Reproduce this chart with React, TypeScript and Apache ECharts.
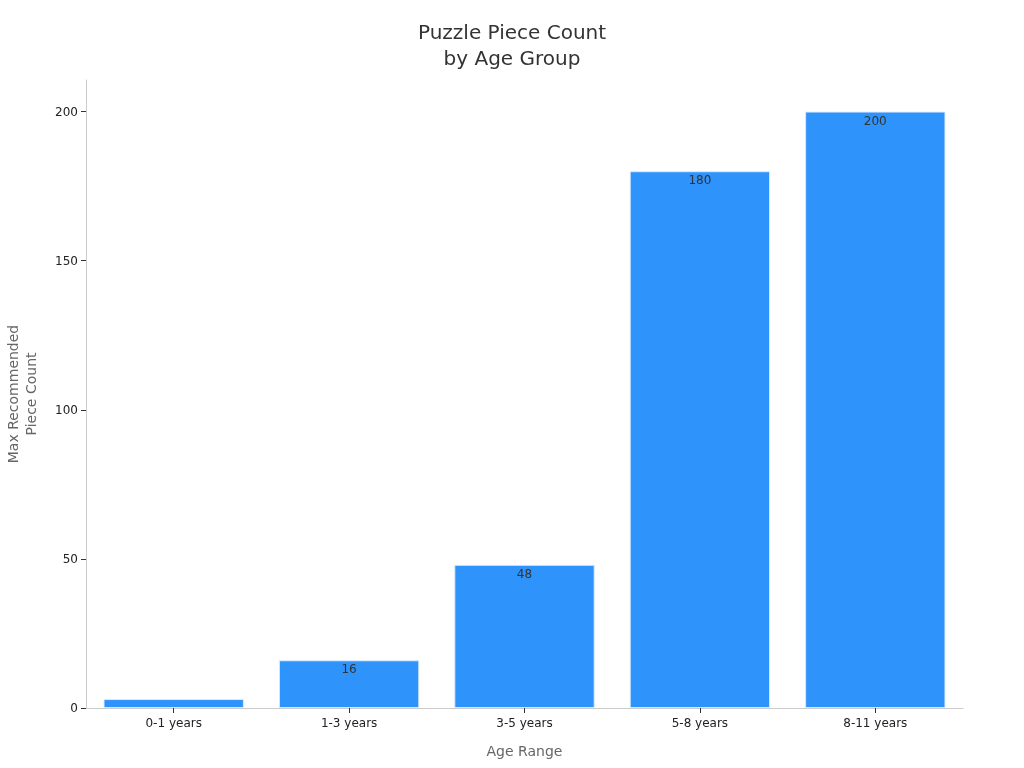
import React, { useEffect, useRef } from "react";
import * as echarts from "echarts";

const categories = ["0-1 years", "1-3 years", "3-5 years", "5-8 years", "8-11 years"];
const values = [3, 16, 48, 180, 200];
const yTicks = [0, 50, 100, 150, 200];

export default function App() {
  const ref = useRef<HTMLDivElement>(null);
  useEffect(() => {
    const chart = echarts.init(ref.current!, null, { renderer: "svg" });
    chart.setOption({
      animation: false,
      textStyle: { fontFamily: "DejaVu Sans" },
      title: {
        text: "Puzzle Piece Count\nby Age Group",
        left: "center",
        top: 14,
        textStyle: { fontSize: 20, fontWeight: "normal", color: "#333", lineHeight: 26, fontFamily: "DejaVu Sans" },
      },
      grid: { left: 86, right: 61, top: 80, bottom: 60, containLabel: false, outerBoundsMode: "none" },
      xAxis: {
        type: "category",
        data: categories,
        name: "Age Range",
        nameLocation: "middle",
        nameGap: 36,
        nameTextStyle: { fontSize: 14, color: "#666", verticalAlign: "top" },
        axisLine: { lineStyle: { color: "#ccc" } },
        axisTick: { show: true, alignWithLabel: true, length: 5, lineStyle: { color: "#333" } },
        axisLabel: { fontSize: 12, color: "#222", margin: 9 },
      },
      yAxis: {
        type: "value",
        min: 0,
        max: 210.6,
        name: "Max Recommended\nPiece Count",
        nameLocation: "middle",
        nameGap: 46,
        nameTextStyle: { fontSize: 14, color: "#666", lineHeight: 18 },
        axisLine: { show: true, lineStyle: { color: "#ccc" } },
        axisTick: { show: true, length: 5, lineStyle: { color: "#333" }, customValues: yTicks },
        axisLabel: { fontSize: 12, color: "#222", margin: 8, customValues: yTicks },
        splitLine: { show: false },
      },
      series: [
        {
          type: "bar",
          data: values.map((v) => ({ value: v, label: { show: v > 5 } })),
          barCategoryGap: "20%",
          itemStyle: { color: "#2E93FA", borderColor: "rgba(220,235,255,0.9)", borderWidth: 1 },
          label: { show: true, position: "insideTop", distance: 3, fontSize: 12, color: "#333" },
        },
      ],
    });
    return () => chart.dispose();
  }, []);
  return <div ref={ref} style={{ position: "fixed", left: 0, top: 0, width: 1024, height: 768 }} />;
}
